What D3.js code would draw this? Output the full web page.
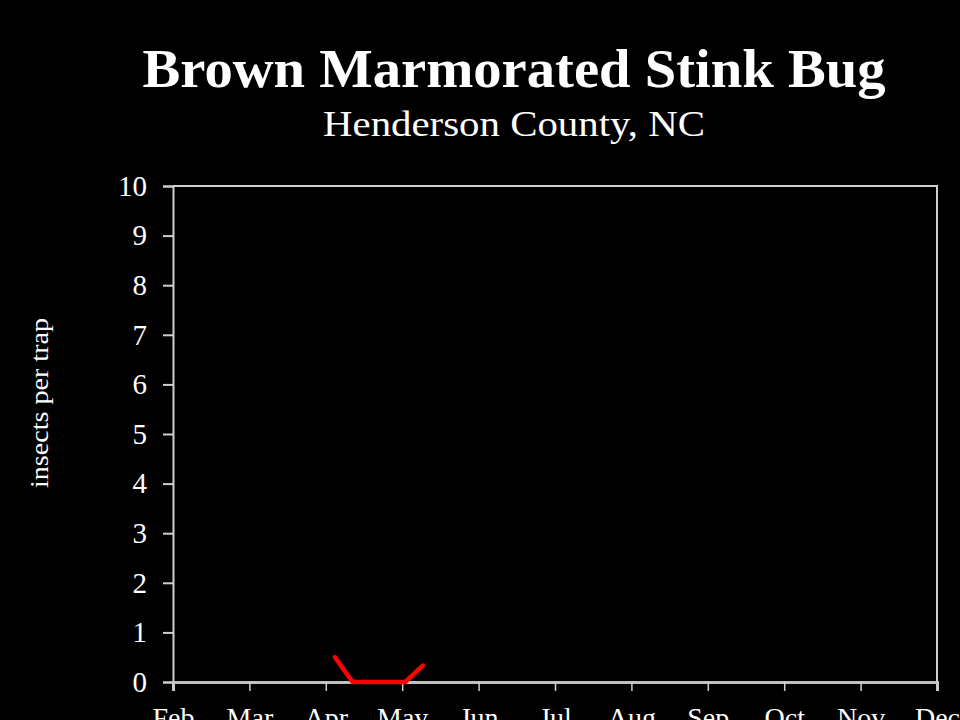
<!DOCTYPE html>
<html><head><meta charset="utf-8">
<script src="https://cdn.jsdelivr.net/npm/d3@7"></script>
<style>html,body{margin:0;padding:0;background:#000;overflow:hidden}</style>
</head><body>
<script>
const monthLabels = ["Feb","Mar","Apr","May","Jun","Jul","Aug","Sep","Oct","Nov","Dec"];
const monthIndex = [2,3,4,5,6,7,8,9,10,11,12];
const yTicks = [0,1,2,3,4,5,6,7,8,9,10];
// sample dates as fractional month (weekly samples in Apr-May)
const sampleMonth = [4.12, 4.35, 4.58, 4.81, 5.04, 5.27];
const insectsPerTrap = [0.5, 0, 0, 0, 0, 0.33];

(function(){
const W = 960, H = 720;
const svg = d3.select("body").append("svg").attr("width", W).attr("height", H);
svg.append("rect").attr("width", W).attr("height", H).attr("fill", "#000");

const mL = 173, mR = 937, mT = 186, mB = 682;
const x = d3.scaleLinear().domain([2, 12]).range([mL, mR]);
const y = d3.scaleLinear().domain([0, 10]).range([mB, mT]);
const font = "'Liberation Serif','DejaVu Serif',serif";
const axisColor = "#d0d0d0";

// Title
svg.append("text").attr("x", 514).attr("y", 87).attr("text-anchor", "middle")
  .attr("fill", "#fff").style("font-family", font).style("font-weight", "bold")
  .style("font-size", "54px").attr("textLength", 743).attr("lengthAdjust", "spacingAndGlyphs")
  .text("Brown Marmorated Stink Bug");
svg.append("text").attr("x", 514).attr("y", 136).attr("text-anchor", "middle")
  .attr("fill", "#fff").style("font-family", font)
  .style("font-size", "36px").attr("textLength", 382).attr("lengthAdjust", "spacingAndGlyphs")
  .text("Henderson County, NC");

// Y axis label
svg.append("text").attr("transform", "translate(48,403) rotate(-90)")
  .attr("text-anchor", "middle").attr("fill", "#fff").style("font-family", font)
  .style("font-size", "26px").attr("textLength", 170).attr("lengthAdjust", "spacingAndGlyphs")
  .text("insects per trap");

// Frame top & right
svg.append("path").attr("d", `M${mL},${mT}H${mR}V${mB}`)
  .attr("fill", "none").attr("stroke", axisColor).attr("stroke-width", 2);

// Y axis
const yAxis = svg.append("g").attr("transform", `translate(${mL},0)`)
  .call(d3.axisLeft(y).tickValues(yTicks).tickSize(10).tickPadding(16).tickFormat(d3.format("d")));
yAxis.select(".domain").attr("stroke", axisColor).attr("stroke-width", 2);
yAxis.selectAll(".tick line").attr("stroke", axisColor).attr("stroke-width", 2);
yAxis.selectAll(".tick text").attr("fill", "#fff").style("font-family", font).style("font-size", "29px");

// X axis
const xAxis = svg.append("g").attr("transform", `translate(0,${mB})`)
  .call(d3.axisBottom(x).tickValues(monthIndex).tickSize(9).tickPadding(16)
    .tickFormat((d, i) => monthLabels[i]));
xAxis.select(".domain").attr("stroke", "#c0c0c0").attr("stroke-width", 3);
xAxis.selectAll(".tick line").attr("stroke", axisColor).attr("stroke-width", 1.5);
xAxis.selectAll(".tick text").attr("fill", "#fff").style("font-family", font).style("font-size", "28px");

// Data line
const line = d3.line().x((d, i) => x(sampleMonth[i])).y(d => y(d));
svg.append("path").datum(insectsPerTrap).attr("d", line)
  .attr("fill", "none").attr("stroke", "#ff0000").attr("stroke-width", 4.5)
  .attr("stroke-linejoin", "round").attr("stroke-linecap", "round");
})();
</script>
</body></html>
